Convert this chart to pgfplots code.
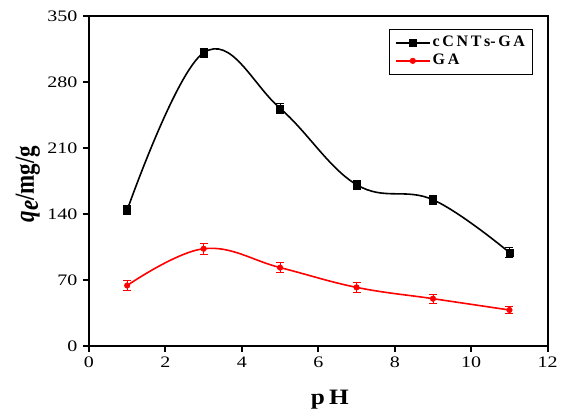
\documentclass[border=0pt]{standalone}
\usepackage{pgfplots}
\pgfplotsset{compat=1.18}
\usepackage{fontspec}
\setmainfont{Liberation Serif}
\begin{document}
\begin{tikzpicture}
\fontsize{16}{18}\selectfont
\begin{axis}[
  scale only axis, width=459pt, height=330pt,
  xmin=0, xmax=12, ymin=0, ymax=350,
  xtick={0,2,...,12}, ytick={0,70,...,350},
  axis line style={line width=2pt},
  tick style={line width=2pt, black},
  tick align=outside, major tick length=6pt,
  xtick pos=bottom, ytick pos=left,
  xticklabel={\scalebox{1.25}[1]{\pgfmathprintnumber[assume math mode=true]{\tick}}},
  yticklabel={\scalebox{1.25}[1]{\pgfmathprintnumber[assume math mode=true]{\tick}}},
  tick label style={font=\fontsize{16}{18}\selectfont},
  xlabel={\scalebox{1.15}[1]{\textbf{p\,H}}},
  ylabel={\scalebox{1}[1.2]{\textbf{\textit{q}\raisebox{-0.3ex}{\textit{e}}/mg/g}}},
  xlabel style={font=\fontsize{22}{24}\selectfont, at={(axis description cs:0.525,-0.164)}, anchor=center},
  ylabel style={font=\fontsize{23}{25}\selectfont, at={(axis description cs:-0.133,0.49)}, anchor=center},
  legend style={at={(axis description cs:0.967,0.961)}, anchor=north east, draw=black, line width=1pt, font=\bfseries\fontsize{16}{18}\selectfont, row sep=1pt, inner sep=5pt},
  legend cell align=left,
  legend image code/.code={\draw[mark repeat=2,mark phase=2,#1] plot coordinates {(0cm,0cm)(0.6cm,0cm)(1.2cm,0cm)};},
  every axis plot/.append style={line width=1.6pt},
]
\addplot[black, smooth, tension=0.65, mark=square*, mark size=3.5pt, mark options={solid, line width=0.5pt},
  error bars/.cd, y dir=both, y explicit, error bar style={line width=0.9pt}, error mark options={rotate=90, mark size=4pt, line width=0.9pt}]
  coordinates {(1,144) +- (0,5) (3,311) +- (0,5) (5,252) +- (0,5) (7,171) +- (0,5) (9,155) +- (0,5) (11,99) +- (0,5)};
\addlegendentry{c\,C\,N\,T\,s-\,G\,A}
\addplot[red, smooth, tension=0.65, mark=*, mark size=2.8pt, mark options={solid, line width=0.5pt},
  error bars/.cd, y dir=both, y explicit, error bar style={line width=0.9pt}, error mark options={rotate=90, mark size=4pt, line width=0.9pt}]
  coordinates {(1,64) +- (0,5) (3,103) +- (0,6) (5,83) +- (0,5) (7,62) +- (0,5) (9,50) +- (0,5) (11,38) +- (0,4)};
\addlegendentry{G\,A}
\end{axis}
\path[use as bounding box] (-89pt,-72pt) rectangle (474pt,346pt);
\end{tikzpicture}
\end{document}
